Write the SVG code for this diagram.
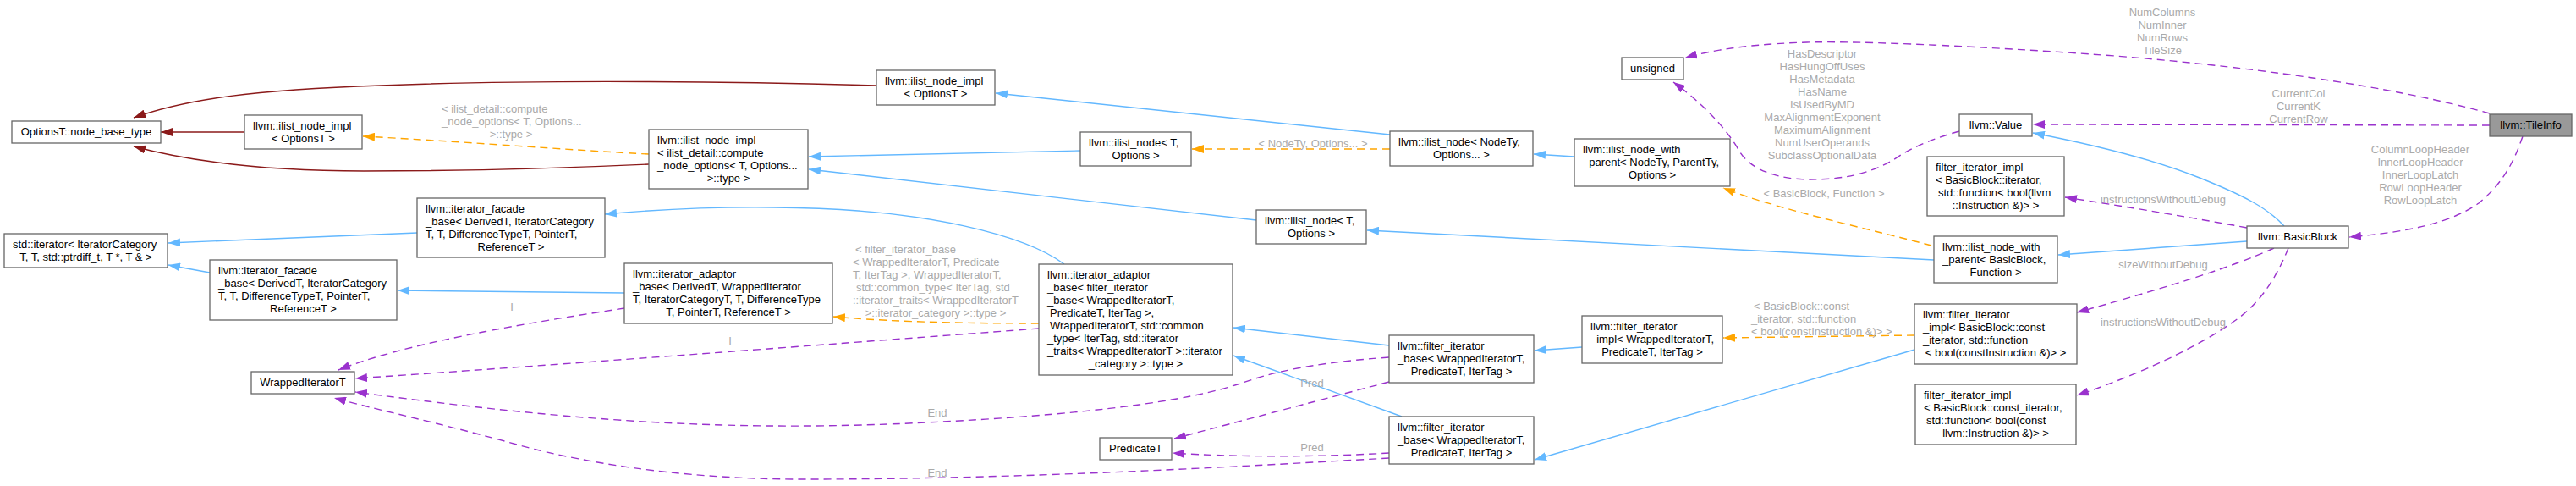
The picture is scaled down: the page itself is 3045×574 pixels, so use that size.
<svg xmlns="http://www.w3.org/2000/svg" width="3045" height="574" viewBox="0 0 3045 574">
<style>
.n rect{fill:#fff;stroke:#666;stroke-width:1.3}
.n text,.l{font-family:"Liberation Sans",Arial,sans-serif;font-size:13px}
.n text{fill:#000}
.n .c{text-anchor:middle}
.l{fill:#aaa}
.l .c,.lc{text-anchor:middle}
#edges path{fill:none;stroke-width:1.4}
.pub{stroke:#63b8ff;marker-end:url(#aB)}
.priv{stroke:#8b1a1a;marker-end:url(#aR)}
.tpl{stroke:#ffa500;stroke-dasharray:9,6;marker-end:url(#aO)}
.use{stroke:#9a32cd;stroke-dasharray:9,6;marker-end:url(#aP)}
</style>
<defs>
<marker id="aB" viewBox="0 0 14 10" refX="14" refY="5" markerWidth="14" markerHeight="10" markerUnits="userSpaceOnUse" orient="auto"><path d="M0,0 L14,5 L0,10 z" fill="#63b8ff"/></marker>
<marker id="aR" viewBox="0 0 14 10" refX="14" refY="5" markerWidth="14" markerHeight="10" markerUnits="userSpaceOnUse" orient="auto"><path d="M0,0 L14,5 L0,10 z" fill="#8b1a1a"/></marker>
<marker id="aO" viewBox="0 0 14 10" refX="14" refY="5" markerWidth="14" markerHeight="10" markerUnits="userSpaceOnUse" orient="auto"><path d="M0,0 L14,5 L0,10 z" fill="#ffa500"/></marker>
<marker id="aP" viewBox="0 0 14 10" refX="14" refY="5" markerWidth="14" markerHeight="10" markerUnits="userSpaceOnUse" orient="auto"><path d="M0,0 L14,5 L0,10 z" fill="#9a32cd"/></marker>
</defs>
<rect width="3045" height="574" fill="#fff"/>
<g id="edges">
<path class="priv" d="M1036,101 C900,97 650,93 450,101 C300,106 220,117 158,139"/>
<path class="priv" d="M289,156 L190,156"/>
<path class="priv" d="M767,194 C680,198 560,202 430,202 C320,202 230,192 158,173"/>
<path class="tpl" d="M767,182 C700,179 560,168 429,161"/>
<path class="pub" d="M1277,178 L956,185"/>
<path class="pub" d="M1485,260 L956,200"/>
<path class="pub" d="M1643,159 L1177,110"/>
<path class="pub" d="M1861,185 L1813,182"/>
<path class="pub" d="M2286,307 L1616,272"/>
<path class="pub" d="M1258,312 C1215,280 1100,246 915,245 C830,244 770,248 715,253"/>
<path class="pub" d="M493,275 L199,287"/>
<path class="pub" d="M248,322 L199,313"/>
<path class="pub" d="M738,346 L470,343"/>
<path class="pub" d="M1642,408 L1458,387"/>
<path class="pub" d="M1657,492 L1458,420"/>
<path class="pub" d="M1870,410 L1814,414"/>
<path class="pub" d="M2263,413 L1814,543"/>
<path class="pub" d="M2656,285 L2433,301"/>
<path class="pub" d="M2700,267 C2680,245 2650,230 2600,210 C2540,186 2470,170 2403,157"/>
<path class="tpl" d="M1643,176 L1409,176"/>
<path class="tpl" d="M1228,382 C1100,382 1030,378 985,374"/>
<path class="tpl" d="M2283,290 C2200,268 2100,247 2037,222"/>
<path class="tpl" d="M2263,396 L2037,399"/>
<path class="use" d="M738,364 C620,382 480,405 400,437"/>
<path class="use" d="M1228,388 C1000,405 700,428 420,447"/>
<path class="use" d="M1642,422 C1530,430 1490,445 1466,453 C1380,482 1200,495 1050,501 C850,508 680,498 420,463"/>
<path class="use" d="M1642,541 C1450,552 1200,566 950,566 C800,566 680,545 600,522 C520,500 450,485 395,470"/>
<path class="use" d="M1642,451 L1388,518"/>
<path class="use" d="M1642,535 C1560,540 1460,540 1386,535"/>
<path class="use" d="M2316,155 C2290,162 2265,172 2247,183 C2215,205 2180,212 2140,212 C2100,212 2070,200 2057,180 C2040,150 2010,120 1978,97"/>
<path class="use" d="M2943,134 C2850,108 2700,82 2500,66 C2350,55 2200,48 2136,50 C2070,52 2030,58 1992,68"/>
<path class="use" d="M2943,148 L2403,147"/>
<path class="use" d="M2982,161 C2972,190 2960,215 2930,240 C2890,268 2830,275 2777,280"/>
<path class="use" d="M2656,269 C2580,255 2500,242 2441,233"/>
<path class="use" d="M2688,293 C2640,315 2560,340 2455,369"/>
<path class="use" d="M2705,293 C2690,330 2670,360 2640,380 C2590,415 2520,445 2455,467"/>
</g>
<g id="labels">
<text class="l"><tspan x="522" y="133">&lt; ilist_detail::compute</tspan><tspan x="522" y="148">_node_options&lt; T, Options...</tspan><tspan class="c" x="604" y="163">&gt;::type &gt;</tspan></text>
<text class="l lc" x="1552" y="174">&lt; NodeTy, Options... &gt;</text>
<text class="l"><tspan x="1011" y="298.5">&lt; filter_iterator_base</tspan><tspan x="1008" y="313.5">&lt; WrappedIteratorT, Predicate</tspan><tspan x="1008" y="328.5">T, IterTag &gt;, WrappedIteratorT,</tspan><tspan x="1012" y="343.5">std::common_type&lt; IterTag, std</tspan><tspan x="1008" y="358.5">::iterator_traits&lt; WrappedIteratorT</tspan><tspan class="c" x="1106" y="373.5">&gt;::iterator_category &gt;::type &gt;</tspan></text>
<text class="l lc" x="2156" y="232.5">&lt; BasicBlock, Function &gt;</text>
<text class="l"><tspan x="2073" y="365.5">&lt; BasicBlock::const</tspan><tspan x="2070" y="380.5">_iterator, std::function</tspan><tspan x="2070" y="395.5">&lt; bool(constInstruction &amp;)&gt; &gt;</tspan></text>
<text class="l lc" x="605" y="366.5">I</text>
<text class="l lc" x="863" y="406.5">I</text>
<text class="l lc" x="1108" y="491.5">End</text>
<text class="l lc" x="1108" y="562.5">End</text>
<text class="l lc" x="1551" y="456.5">Pred</text>
<text class="l lc" x="1551" y="532.5">Pred</text>
<text class="l lc"><tspan x="2154" y="67.5">HasDescriptor</tspan><tspan x="2154" y="82.5">HasHungOffUses</tspan><tspan x="2154" y="97.5">HasMetadata</tspan><tspan x="2154" y="112.5">HasName</tspan><tspan x="2154" y="127.5">IsUsedByMD</tspan><tspan x="2154" y="142.5">MaxAlignmentExponent</tspan><tspan x="2154" y="157.5">MaximumAlignment</tspan><tspan x="2154" y="172.5">NumUserOperands</tspan><tspan x="2154" y="187.5">SubclassOptionalData</tspan></text>
<text class="l lc"><tspan x="2556" y="18.5">NumColumns</tspan><tspan x="2556" y="33.5">NumInner</tspan><tspan x="2556" y="48.5">NumRows</tspan><tspan x="2556" y="63.5">TileSize</tspan></text>
<text class="l lc"><tspan x="2717" y="114.5">CurrentCol</tspan><tspan x="2717" y="129.5">CurrentK</tspan><tspan x="2717" y="144.5">CurrentRow</tspan></text>
<text class="l lc"><tspan x="2861" y="180.5">ColumnLoopHeader</tspan><tspan x="2861" y="195.5">InnerLoopHeader</tspan><tspan x="2861" y="210.5">InnerLoopLatch</tspan><tspan x="2861" y="225.5">RowLoopHeader</tspan><tspan x="2861" y="240.5">RowLoopLatch</tspan></text>
<text class="l lc" x="2557" y="239.5">instructionsWithoutDebug</text>
<text class="l lc" x="2557" y="316.5">sizeWithoutDebug</text>
<text class="l lc" x="2557" y="384.5">instructionsWithoutDebug</text>
</g>
<g id="n_options_base" class="n"><rect x="14" y="143" width="176" height="26"/><text class="c" x="102" y="160">OptionsT::node_base_type</text></g>
<g id="n_ilist_node_impl_l" class="n"><rect x="289" y="136" width="139" height="40"/><text x="299" y="152.5">llvm::ilist_node_impl</text><text class="c" x="358.5" y="167.5">&lt; OptionsT &gt;</text></g>
<g id="n_ilist_node_impl_t" class="n"><rect x="1036" y="83" width="140" height="41"/><text x="1046" y="100">llvm::ilist_node_impl</text><text class="c" x="1106" y="115">&lt; OptionsT &gt;</text></g>
<g id="n_ilist_node_impl_d" class="n"><rect x="767" y="153" width="188" height="70"/><text x="777" y="169.5">llvm::ilist_node_impl</text><text x="777" y="184.5">&lt; ilist_detail::compute</text><text x="777" y="199.5">_node_options&lt; T, Options...</text><text class="c" x="861" y="214.5">&gt;::type &gt;</text></g>
<g id="n_std_iterator" class="n"><rect x="5" y="276" width="193" height="40"/><text x="15" y="292.5">std::iterator&lt; IteratorCategory</text><text class="c" x="101.5" y="307.5">T, T, std::ptrdiff_t, T *, T &amp; &gt;</text></g>
<g id="n_iterator_facade_u" class="n"><rect x="493" y="234" width="222" height="70"/><text x="503" y="250.5">llvm::iterator_facade</text><text x="503" y="265.5">_base&lt; DerivedT, IteratorCategory</text><text x="503" y="280.5">T, T, DifferenceTypeT, PointerT,</text><text class="c" x="604" y="295.5">ReferenceT &gt;</text></g>
<g id="n_iterator_facade_l" class="n"><rect x="248" y="307" width="221" height="71"/><text x="258" y="323.5">llvm::iterator_facade</text><text x="258" y="338.5">_base&lt; DerivedT, IteratorCategory</text><text x="258" y="353.5">T, T, DifferenceTypeT, PointerT,</text><text class="c" x="358.5" y="368.5">ReferenceT &gt;</text></g>
<g id="n_wrapped_iterator" class="n"><rect x="297" y="439" width="122" height="26"/><text class="c" x="358" y="456">WrappedIteratorT</text></g>
<g id="n_iterator_adaptor_d" class="n"><rect x="738" y="311" width="246" height="71"/><text x="748" y="327.5">llvm::iterator_adaptor</text><text x="748" y="342.5">_base&lt; DerivedT, WrappedIterator</text><text x="748" y="357.5">T, IteratorCategoryT, T, DifferenceType</text><text class="c" x="861" y="372.5">T, PointerT, ReferenceT &gt;</text></g>
<g id="n_iterator_adaptor_f" class="n"><rect x="1228" y="312" width="229" height="131"/><text x="1238" y="329">llvm::iterator_adaptor</text><text x="1238" y="344">_base&lt; filter_iterator</text><text x="1238" y="359">_base&lt; WrappedIteratorT,</text><text x="1241" y="374">PredicateT, IterTag &gt;,</text><text x="1241" y="389">WrappedIteratorT, std::common</text><text x="1238" y="404">_type&lt; IterTag, std::iterator</text><text x="1238" y="419">_traits&lt; WrappedIteratorT &gt;::iterator</text><text class="c" x="1342.5" y="434">_category &gt;::type &gt;</text></g>
<g id="n_ilist_node_u" class="n"><rect x="1277" y="156" width="131" height="40"/><text x="1287" y="172.5">llvm::ilist_node&lt; T,</text><text class="c" x="1342.5" y="187.5">Options &gt;</text></g>
<g id="n_ilist_node_nodety" class="n"><rect x="1643" y="155" width="169" height="41"/><text x="1653" y="171.5">llvm::ilist_node&lt; NodeTy,</text><text class="c" x="1727.5" y="186.5">Options... &gt;</text></g>
<g id="n_ilist_node_l" class="n"><rect x="1485" y="248" width="130" height="40"/><text x="1495" y="264.5">llvm::ilist_node&lt; T,</text><text class="c" x="1550" y="279.5">Options &gt;</text></g>
<g id="n_predicate" class="n"><rect x="1300" y="517" width="85" height="26"/><text class="c" x="1342.5" y="534">PredicateT</text></g>
<g id="n_filter_base_u" class="n"><rect x="1642" y="396" width="171" height="56"/><text x="1652" y="413">llvm::filter_iterator</text><text x="1652" y="428">_base&lt; WrappedIteratorT,</text><text class="c" x="1727.5" y="443">PredicateT, IterTag &gt;</text></g>
<g id="n_filter_base_l" class="n"><rect x="1642" y="492" width="171" height="56"/><text x="1652" y="509">llvm::filter_iterator</text><text x="1652" y="524">_base&lt; WrappedIteratorT,</text><text class="c" x="1727.5" y="539">PredicateT, IterTag &gt;</text></g>
<g id="n_unsigned" class="n"><rect x="1917" y="68" width="73" height="26"/><text class="c" x="1953.5" y="85">unsigned</text></g>
<g id="n_ilist_with_parent_t" class="n"><rect x="1861" y="164" width="184" height="56"/><text x="1871" y="181">llvm::ilist_node_with</text><text x="1871" y="196">_parent&lt; NodeTy, ParentTy,</text><text class="c" x="1953" y="211">Options &gt;</text></g>
<g id="n_filter_impl_t" class="n"><rect x="1870" y="373" width="166" height="56"/><text x="1880" y="390">llvm::filter_iterator</text><text x="1880" y="405">_impl&lt; WrappedIteratorT,</text><text class="c" x="1953" y="420">PredicateT, IterTag &gt;</text></g>
<g id="n_value" class="n"><rect x="2316" y="135" width="86" height="26"/><text class="c" x="2359" y="152">llvm::Value</text></g>
<g id="n_filter_impl_bb_iter" class="n"><rect x="2278" y="185" width="162" height="70"/><text x="2288" y="201.5">filter_iterator_impl</text><text x="2288" y="216.5">&lt; BasicBlock::iterator,</text><text x="2291" y="231.5">std::function&lt; bool(llvm</text><text class="c" x="2359" y="246.5">::Instruction &amp;)&gt; &gt;</text></g>
<g id="n_ilist_with_parent_bb" class="n"><rect x="2286" y="279" width="146" height="55"/><text x="2296" y="295.5">llvm::ilist_node_with</text><text x="2296" y="310.5">_parent&lt; BasicBlock,</text><text class="c" x="2359" y="325.5">Function &gt;</text></g>
<g id="n_filter_impl_bb_const" class="n"><rect x="2263" y="359" width="192" height="71"/><text x="2273" y="375.5">llvm::filter_iterator</text><text x="2273" y="390.5">_impl&lt; BasicBlock::const</text><text x="2273" y="405.5">_iterator, std::function</text><text class="c" x="2359" y="420.5">&lt; bool(constInstruction &amp;)&gt; &gt;</text></g>
<g id="n_filter_impl_bb_const2" class="n"><rect x="2264" y="454" width="190" height="71"/><text x="2274" y="470.5">filter_iterator_impl</text><text x="2274" y="485.5">&lt; BasicBlock::const_iterator,</text><text x="2277" y="500.5">std::function&lt; bool(const</text><text class="c" x="2359" y="515.5">llvm::Instruction &amp;)&gt; &gt;</text></g>
<g id="n_basicblock" class="n"><rect x="2656" y="267" width="120" height="26"/><text class="c" x="2716" y="284">llvm::BasicBlock</text></g>
<g id="n_tileinfo" class="n"><rect x="2943" y="135" width="97" height="26" style="fill:#999"/><text class="c" x="2991.5" y="152">llvm::TileInfo</text></g>
</svg>
